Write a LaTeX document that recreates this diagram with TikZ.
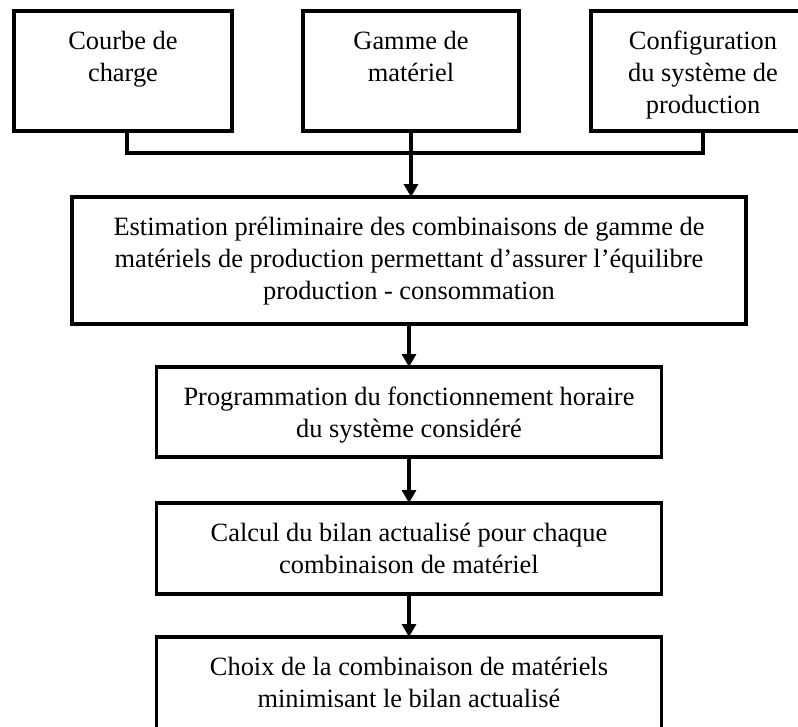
\documentclass[tikz,border=0pt]{standalone}
\usepackage{fontspec}
\setmainfont{Liberation Serif}
\usetikzlibrary{positioning, arrows.meta}

\newcommand{\etiq}[3]{\parbox[t][\dimexpr#2-33pt\relax][t]{#1}{\centering\strut#3}}

\begin{document}
\begin{tikzpicture}[x=1pt, y=-1pt, font=\fontsize{26.4}{32}\selectfont,
    etape/.style={draw, line width=3.2pt, inner xsep=0pt, inner ysep=16.5pt, outer sep=0pt, anchor=north west},
    fleche/.style={line width=3.2pt, -{Triangle[length=13pt, width=14pt]}}]
  \useasboundingbox (0,0) rectangle (798,726);
  \clip (0,0) rectangle (798,726);

  % entrees
  \node[etape] (charge) at (14,11) {\etiq{218pt}{120pt}{Courbe de\\charge}};
  \node[etape, right=71pt of charge] (gamme) {\etiq{216pt}{120pt}{Gamme de\\matériel}};
  \node[etape, right=72pt of gamme] (config) {\etiq{224pt}{120pt}{Configuration\\du système de\\production}};

  % etapes
  \node[etape] (estim) at (72,197)
    {\etiq{674pt}{127pt}{Estimation préliminaire des combinaisons de gamme de\\matériels de production permettant d’assurer l’équilibre\\production - consommation}};
  \node[etape, below=43pt of estim] (prog)
    {\etiq{505pt}{90pt}{Programmation du fonctionnement horaire\\du système considéré}};
  \node[etape, below=46pt of prog] (bilan)
    {\etiq{505pt}{91pt}{Calcul du bilan actualisé pour chaque\\combinaison de matériel}};
  \node[etape, below=43pt of bilan] (choix)
    {\etiq{505pt}{100pt}{Choix de la combinaison de matériels\\minimisant le bilan actualisé}};

  \coordinate (bus) at ([yshift=-22pt]gamme.south);
  \draw[line width=3.2pt] ([xshift=4pt]charge.south) |- (bus) -| (config.south);
  \draw[fleche] (gamme.south) -- (gamme.south |- estim.north);
  \draw[fleche] (estim.south) -- (prog.north);
  \draw[fleche] (prog.south) -- (bilan.north);
  \draw[fleche] (bilan.south) -- (choix.north);
\end{tikzpicture}
\end{document}
